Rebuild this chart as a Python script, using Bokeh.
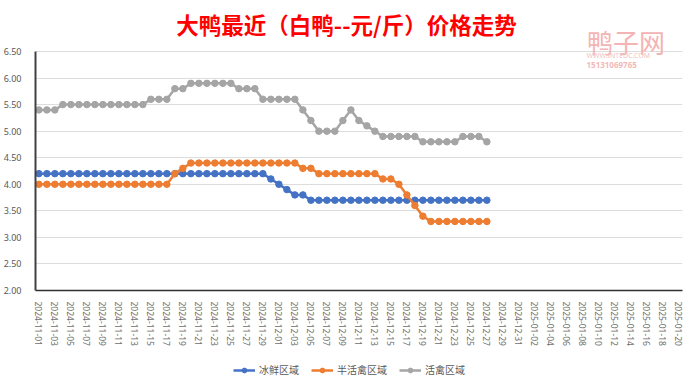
import pandas as pd
from bokeh.plotting import figure
from bokeh.layouts import column
from bokeh.models import (Range1d, FixedTicker, NumeralTickFormatter, Legend,
                          LegendItem, Label, ColumnDataSource)
from bokeh.embed import file_html
from bokeh.resources import INLINE

# ---------------- data ----------------
dates = pd.date_range("2024-11-01", "2025-01-20").strftime("%Y-%m-%d").tolist()
tick_labels = dates[::2]
y_ticks = [2.0, 2.5, 3.0, 3.5, 4.0, 4.5, 5.0, 5.5, 6.0, 6.5]

series_names = ["冰鲜区域", "半活禽区域", "活禽区域"]

bingxian = [4.2, 4.2, 4.2, 4.2, 4.2, 4.2, 4.2, 4.2, 4.2, 4.2,
            4.2, 4.2, 4.2, 4.2, 4.2, 4.2, 4.2, 4.2, 4.2, 4.2,
            4.2, 4.2, 4.2, 4.2, 4.2, 4.2, 4.2, 4.2, 4.2, 4.1,
            4.0, 3.9, 3.8, 3.8, 3.7, 3.7, 3.7, 3.7, 3.7, 3.7,
            3.7, 3.7, 3.7, 3.7, 3.7, 3.7, 3.7, 3.7, 3.7, 3.7,
            3.7, 3.7, 3.7, 3.7, 3.7, 3.7, 3.7]

banhuoqin = [4.0, 4.0, 4.0, 4.0, 4.0, 4.0, 4.0, 4.0, 4.0, 4.0,
             4.0, 4.0, 4.0, 4.0, 4.0, 4.0, 4.0, 4.2, 4.3, 4.4,
             4.4, 4.4, 4.4, 4.4, 4.4, 4.4, 4.4, 4.4, 4.4, 4.4,
             4.4, 4.4, 4.4, 4.3, 4.3, 4.2, 4.2, 4.2, 4.2, 4.2,
             4.2, 4.2, 4.2, 4.1, 4.1, 4.0, 3.8, 3.6, 3.4, 3.3,
             3.3, 3.3, 3.3, 3.3, 3.3, 3.3, 3.3]

huoqin = [5.4, 5.4, 5.4, 5.5, 5.5, 5.5, 5.5, 5.5, 5.5, 5.5,
          5.5, 5.5, 5.5, 5.5, 5.6, 5.6, 5.6, 5.8, 5.8, 5.9,
          5.9, 5.9, 5.9, 5.9, 5.9, 5.8, 5.8, 5.8, 5.6, 5.6,
          5.6, 5.6, 5.6, 5.4, 5.2, 5.0, 5.0, 5.0, 5.2, 5.4,
          5.2, 5.1, 5.0, 4.9, 4.9, 4.9, 4.9, 4.9, 4.8, 4.8,
          4.8, 4.8, 4.8, 4.9, 4.9, 4.9, 4.8]

colors = ["#4472C4", "#ED7D31", "#A5A5A5"]
series = [bingxian, banhuoqin, huoqin]

CJK = "Noto Sans CJK SC"

# ---------------- main chart ----------------
p = figure(width=692, height=348, output_backend="svg", toolbar_location=None,
           x_range=Range1d(-0.42, len(dates) - 1 + 0.45), y_range=Range1d(2.0, 7.46),
           min_border_left=27, min_border_right=10, min_border_top=0,
           min_border_bottom=57)
p.outline_line_color = None
p.background_fill_color = "white"
p.border_fill_color = "white"

sources = []
for name, vals, c in zip(series_names, series, colors):
    src = ColumnDataSource(dict(x=list(range(len(vals))), y=vals))
    sources.append(src)
    p.line("x", "y", source=src, line_color=c, line_width=2.5)
    p.scatter("x", "y", source=src, size=6.5, fill_color=c, line_color=c)

p.xgrid.visible = False
p.ygrid.grid_line_color = "#DDDDDD"
p.ygrid.grid_line_width = 1

p.yaxis.ticker = FixedTicker(ticks=y_ticks)
p.yaxis.bounds = (y_ticks[0], y_ticks[-1])
p.yaxis.formatter = NumeralTickFormatter(format="0.00")
p.yaxis.major_label_text_font = "Noto Sans"
p.yaxis.major_label_text_font_size = "9px"
p.yaxis.major_label_text_color = "#595959"
p.yaxis.major_label_standoff = 8
p.yaxis.major_tick_line_color = None
p.yaxis.minor_tick_line_color = None
p.yaxis.axis_line_color = "#404040"
p.yaxis.axis_line_width = 2

tick_pos = list(range(0, len(dates), 2))
p.xaxis.ticker = FixedTicker(ticks=tick_pos)
p.xaxis.major_label_overrides = {t: lab for t, lab in zip(tick_pos, tick_labels)}
p.xaxis.major_label_orientation = "vertical"
p.xaxis.major_label_text_font = "Noto Sans"
p.xaxis.major_label_text_font_size = "8.5px"
p.xaxis.major_label_text_color = "#6E6E6E"
p.xaxis.major_label_standoff = 5
p.xaxis.major_tick_line_color = None
p.xaxis.minor_tick_line_color = None
p.xaxis.axis_line_color = "#303030"
p.xaxis.axis_line_width = 1.5

# title
p.add_layout(Label(x=38.45, y=7.02, text="大鸭最近（白鸭--元/斤）价格走势",
                   text_font=CJK, text_font_size="22.5px", text_font_style="bold",
                   text_color="#FF0000", text_align="center", text_baseline="middle"))

# watermark
p.add_layout(Label(x=68.5, y=6.69, text="鸭子网", text_font=CJK,
                   text_font_size="26px", text_color="#F4B4B4",
                   text_align="left", text_baseline="middle"))
p.add_layout(Label(x=68.45, y=6.43, text="WWW.INTEDC.COM", text_font="Noto Sans",
                   text_font_size="7px", text_color="#F0C4C4",
                   text_align="left", text_baseline="middle"))
p.add_layout(Label(x=68.45, y=6.25, text="15131069765", text_font="Noto Sans",
                   text_font_size="8px", text_font_style="bold", text_color="#F2B8B8",
                   text_align="left", text_baseline="middle"))

# ---------------- legend strip ----------------
pl = figure(width=692, height=29, output_backend="svg", toolbar_location=None,
            x_axis_type=None, y_axis_type=None,
            x_range=Range1d(-3, -2), y_range=Range1d(-3, -2),
            min_border_left=0, min_border_right=0, min_border_top=0,
            min_border_bottom=0)
pl.grid.visible = False
pl.outline_line_color = None
items = []
for name, src, c in zip(series_names, sources, colors):
    r1 = pl.line("x", "y", source=src, line_color=c, line_width=2.5)
    r2 = pl.scatter("x", "y", source=src, size=6.5, fill_color=c, line_color=c)
    items.append(LegendItem(label=name, renderers=[r1, r2]))
legend = Legend(items=items, orientation="horizontal", location=(198, 0),
                label_text_font=CJK, label_text_font_size="10px",
                label_text_color="#595959", glyph_width=22, glyph_height=12,
                label_height=12, label_standoff=4, spacing=12, padding=2,
                margin=0, border_line_color=None, background_fill_alpha=0)
pl.add_layout(legend, "center")

layout = column(p, pl, spacing=0)
open("out.html", "w").write(file_html(layout, INLINE))
